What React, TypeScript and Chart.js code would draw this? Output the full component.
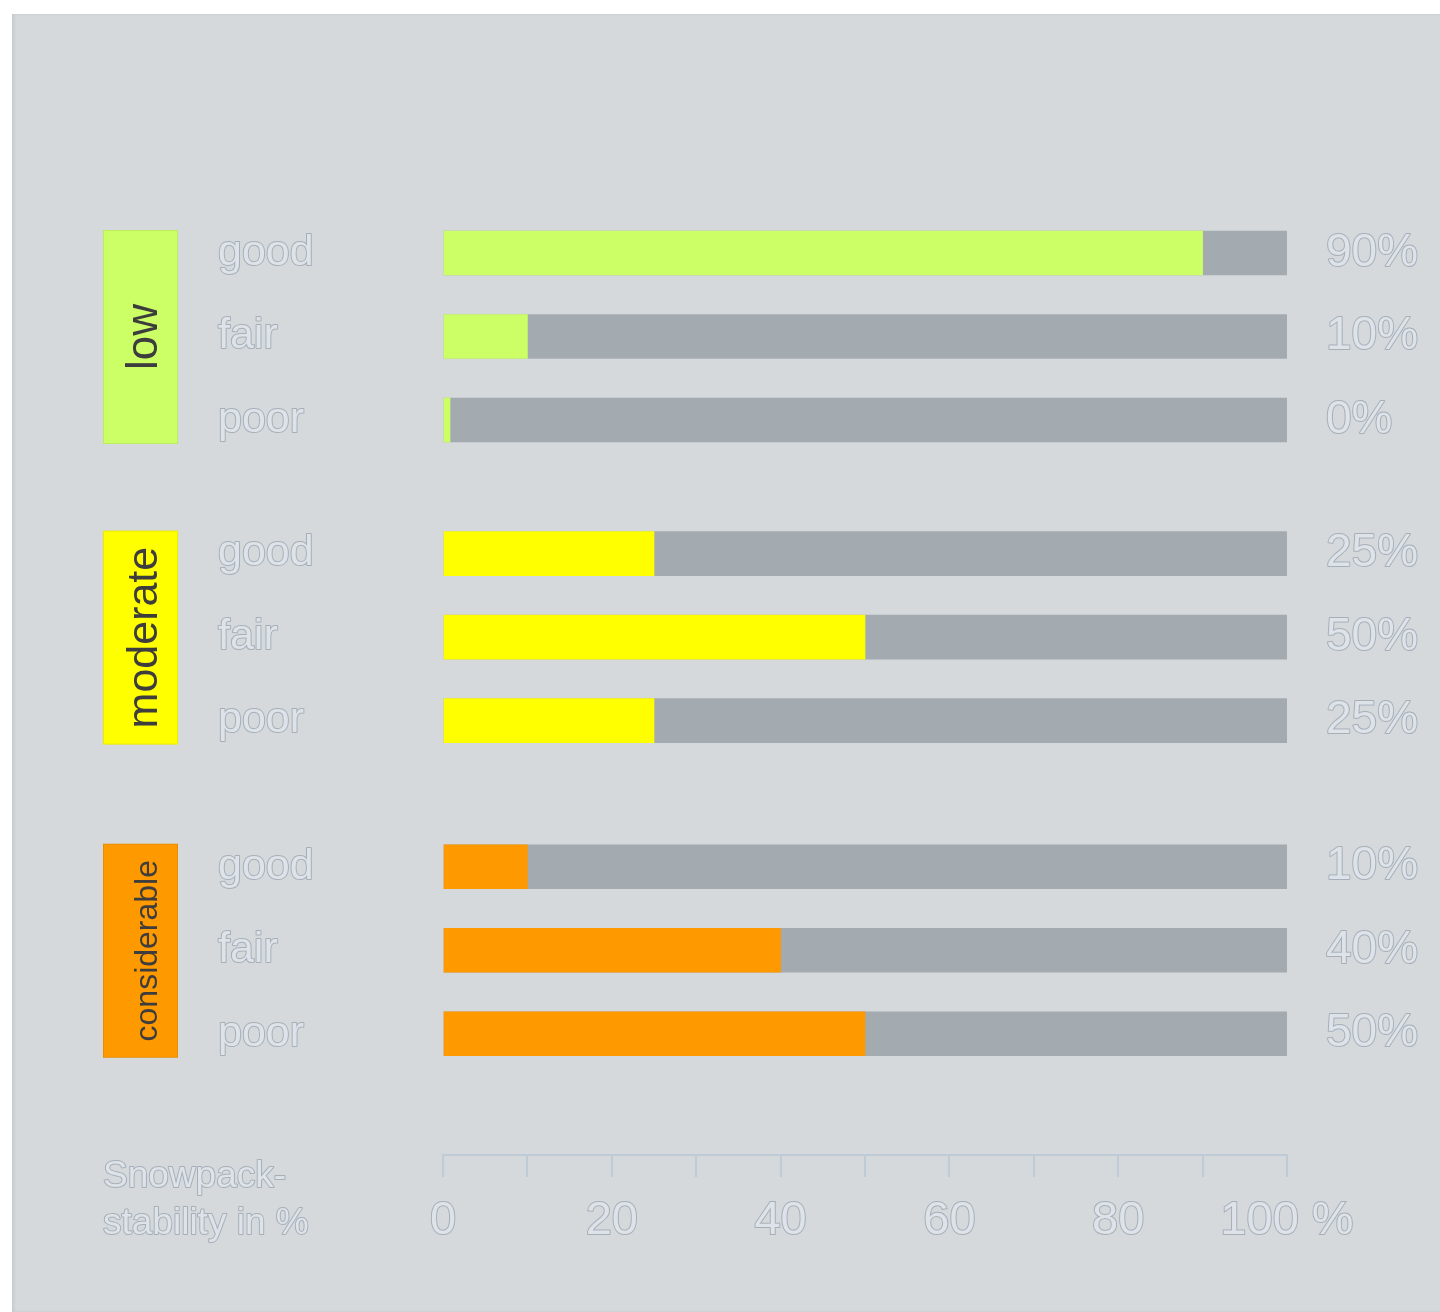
import React, { useEffect, useRef } from 'react';
import { Chart, registerables } from 'chart.js';

Chart.register(...registerables);

// ---- data ----
const groupNames = ['low', 'moderate', 'considerable'];
const categoryNames = ['good', 'fair', 'poor'];
const lowValues = [90, 10, 0];
const moderateValues = [25, 50, 25];
const considerableValues = [10, 40, 50];
const axisTickLabels = ['0', '20', '40', '60', '80', '100 %'];
const axisTitleLines = ['Snowpack-', 'stability in %'];

// ---- style / layout ----
const FONT = '"Liberation Sans", Arial, sans-serif';
const BG = '#d5d9dc';
const TRACK = '#a3aab0';
const TEXT_FILL = '#dde3e8';
const TEXT_OUTLINE = '#a6afb8';
const AXIS = '#bfcbd6';
const GROUP_COLORS = ['#ccff66', '#ffff00', '#ff9900'];
const GROUP_OFFSETS = [0, 3.6, 7.35];
const BAR_H = 44;

const groupValues = [lowValues, moderateValues, considerableValues];

type Row = { x: number; y: number; g: number; c: number };
const rows: Row[] = [];
groupValues.forEach((vals, g) => {
  vals.forEach((v, c) => {
    rows.push({ x: v, y: GROUP_OFFSETS[g] + c, g, c });
  });
});

function outlined(ctx: CanvasRenderingContext2D, text: string, x: number, y: number) {
  ctx.lineJoin = 'round';
  ctx.lineWidth = 2;
  ctx.strokeStyle = TEXT_OUTLINE;
  ctx.strokeText(text, x, y);
  ctx.fillStyle = TEXT_FILL;
  ctx.fillText(text, x, y);
}

const labelsPlugin = {
  id: 'snowLabels',
  afterDatasetsDraw(chart: any) {
    const ctx: CanvasRenderingContext2D = chart.ctx;
    const { left, right } = chart.chartArea;
    const yS = chart.scales.y;
    const xS = chart.scales.x;
    ctx.save();

    // group boxes with rotated labels
    groupNames.forEach((name, g) => {
      const first = GROUP_OFFSETS[g];
      const last = GROUP_OFFSETS[g] + categoryNames.length - 1;
      const top = yS.getPixelForValue(first) - BAR_H / 2 - 1;
      const bottom = yS.getPixelForValue(last) + BAR_H / 2 + 2;
      const rx = left - 340;
      const rw = 75;
      ctx.fillStyle = GROUP_COLORS[g];
      ctx.fillRect(rx, top, rw, bottom - top);
      ctx.strokeStyle = 'rgba(0,0,0,0.08)';
      ctx.lineWidth = 1;
      ctx.strokeRect(rx + 0.5, top + 0.5, rw - 1, bottom - top - 1);

      let size = 44;
      ctx.font = `${size}px ${FONT}`;
      const w = ctx.measureText(name).width;
      const maxW = 185;
      if (w > maxW) size = Math.floor((size * maxW) / w);
      ctx.font = `${size}px ${FONT}`;
      ctx.save();
      ctx.translate(rx + 54, (top + bottom) / 2);
      ctx.rotate(-Math.PI / 2);
      ctx.textAlign = 'center';
      ctx.textBaseline = 'alphabetic';
      ctx.fillStyle = '#3d3d3d';
      ctx.fillText(name, 0, 0);
      ctx.restore();
    });

    // category labels and value labels
    ctx.textBaseline = 'middle';
    rows.forEach((r) => {
      const py = yS.getPixelForValue(r.y);
      ctx.font = `43px ${FONT}`;
      ctx.textAlign = 'left';
      outlined(ctx, categoryNames[r.c], left - 225, py);
      ctx.font = `46px ${FONT}`;
      outlined(ctx, `${r.x}%`, right + 39, py);
    });

    // axis title
    ctx.font = `37px ${FONT}`;
    ctx.textAlign = 'left';
    ctx.textBaseline = 'alphabetic';
    const axTop = xS.top;
    outlined(ctx, axisTitleLines[0], left - 340, axTop + 32);
    outlined(ctx, axisTitleLines[1], left - 340, axTop + 79);

    ctx.restore();
  },
};

export default function App() {
  const ref = useRef<HTMLCanvasElement | null>(null);

  useEffect(() => {
    if (!ref.current) return;
    const yMin = -1;
    const yMax = -1 + (1141 - 155.5) / 83.5;
    const chart = new Chart(ref.current, {
      type: 'bar',
      data: {
        datasets: [
          {
            label: 'stability',
            data: rows.map((r) => ({ x: r.x, y: r.y })),
            backgroundColor: rows.map((r) => GROUP_COLORS[r.g]),
            barThickness: BAR_H,
            grouped: false,
            minBarLength: 7,
            clip: { left: 0, right: false, top: false, bottom: false } as any,
          },
          {
            label: 'track',
            data: rows.map((r) => ({ x: 100, y: r.y })),
            backgroundColor: TRACK,
            barThickness: BAR_H,
            grouped: false,
          },
        ],
      } as any,
      options: {
        indexAxis: 'y',
        animation: false,
        responsive: false,
        maintainAspectRatio: false,
        events: [],
        layout: { padding: { left: 431, right: 153, top: 155.5, bottom: 46.6 } },
        plugins: {
          legend: { display: false },
          tooltip: { enabled: false },
        },
        scales: {
          y: {
            type: 'linear',
            display: false,
            reverse: true,
            offset: false,
            min: yMin,
            max: yMax,
          },
          x: {
            type: 'linear',
            position: 'bottom',
            min: 0,
            max: 100,
            offset: false,
            grid: {
              drawOnChartArea: false,
              drawTicks: true,
              tickLength: 22,
              color: AXIS,
              lineWidth: 2,
            },
            border: { display: true, color: AXIS, width: 2 },
            ticks: {
              stepSize: 10,
              autoSkip: false,
              maxRotation: 0,
              padding: 16,
              color: TEXT_FILL,
              textStrokeColor: TEXT_OUTLINE,
              textStrokeWidth: 2,
              font: { size: 47, family: FONT },
              callback: (v: any) => {
                const n = Number(v);
                return n % 20 === 0 ? axisTickLabels[n / 20] : '';
              },
            },
          },
        },
      } as any,
      plugins: [labelsPlugin],
    });
    return () => chart.destroy();
  }, []);

  return (
    <div
      style={{
        position: 'absolute',
        left: 12,
        top: 14,
        width: 1428,
        height: 1298,
        background: BG,
        boxShadow: 'inset 2px 0 3px rgba(0,0,0,0.07)',
        overflow: 'hidden',
      }}
    >
      <canvas ref={ref} width={1428} height={1298} style={{ display: 'block' }} />
    </div>
  );
}
